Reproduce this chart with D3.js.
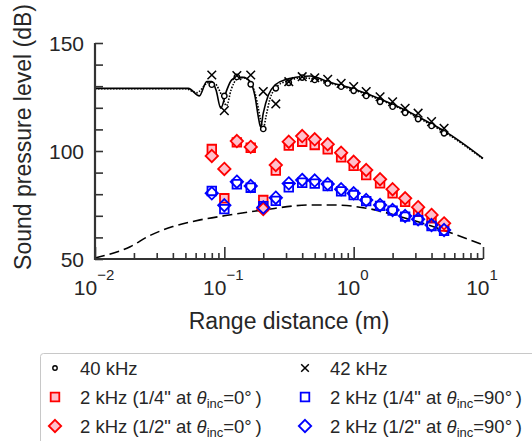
<!DOCTYPE html>
<html>
<head>
<meta charset="utf-8">
<script src="https://cdn.jsdelivr.net/npm/d3@7"></script>
<style>
  html, body { margin: 0; padding: 0; background: #fff; }
  svg { display: block; font-family: "Liberation Sans", Arial, sans-serif; }
</style>
</head>
<body>
<div id="chart"></div>
<script>
// measured ranges (m)
const ranges = [0.08, 0.1, 0.125, 0.16, 0.2, 0.25, 0.315, 0.4, 0.5, 0.63, 0.8, 1, 1.25, 1.6, 2, 2.5, 3.15, 4, 5];

// measured SPL (dB)
const spl40k = [130.7, 125.5, 134.3, 130.9, 110.2, 129.0, 131.6, 134.0, 132.9, 131.3, 129.8, 127.9, 125.5, 122.8, 120.5, 117.7, 114.8, 111.6, 108.2];
const spl42k = [135.2, 118.7, 134.9, 135.2, 127.5, 121.8, 132.1, 134.4, 133.9, 133.2, 131.3, 129.8, 127.5, 125.1, 122.8, 119.8, 117.5, 113.6, 110.5];
const spl2kQuarter0 = [100.9, 78.1, 104.0, 101.5, 77.3, 90.9, 102.5, 104.3, 102.8, 100.8, 97.1, 93.1, 88.9, 85.0, 80.4, 76.5, 71.9, 68.8, 65.0];
const spl2kQuarter90 = [81.5, 73.1, 84.6, 83.0, 74.5, 76.9, 83.2, 85.3, 84.9, 83.8, 81.3, 79.6, 76.8, 74.6, 72.4, 69.6, 68.0, 65.3, 63.0];
const spl2kHalf0 = [97.7, 91.7, 104.6, 101.9, 73.1, 93.5, 104.3, 106.9, 105.4, 103.1, 99.2, 95.0, 91.2, 86.9, 82.3, 78.1, 74.0, 70.4, 66.5];
const spl2kHalf90 = [80.4, 74.9, 85.8, 83.8, 73.9, 78.4, 85.0, 86.6, 86.3, 84.7, 82.3, 80.4, 77.3, 75.0, 72.7, 69.9, 68.4, 65.7, 63.4];

// model curves
const solidR = [0.01, 0.0527, 0.0641, 0.0731, 0.08, 0.0863, 0.0938, 0.1044, 0.114, 0.125, 0.14, 0.158, 0.173, 0.183, 0.191, 0.2, 0.219, 0.247, 0.304, 0.385, 0.46, 0.63, 1, 1.6, 2.5, 4, 5, 10];
const solidSpl = [129.0, 129.0, 125.5, 132.1, 132.1, 128.2, 119.8, 128.2, 132.9, 134.1, 134.1, 132.1, 125.1, 115.9, 111.0, 117.5, 125.9, 130.6, 133.2, 134.4, 134.7, 132.1, 128.7, 124.1, 119.0, 112.5, 109.3, 96.6];
const dottedR = [0.01, 0.05, 0.0612, 0.0752, 0.085, 0.095, 0.104, 0.113, 0.125, 0.14, 0.16, 0.175, 0.19, 0.2, 0.21, 0.225, 0.25, 0.3, 0.4, 0.5, 0.63, 1, 1.6, 2.5, 4, 5, 10];
const dottedSpl = [128.8, 128.8, 127.0, 131.6, 131.0, 126.0, 121.0, 128.5, 133.2, 134.0, 131.5, 125.5, 115.0, 110.3, 116.0, 124.0, 129.2, 132.3, 133.8, 133.4, 131.7, 128.3, 123.7, 118.6, 112.0, 108.8, 96.3];
const dashedR = [0.01, 0.0187, 0.026, 0.04, 0.065, 0.1, 0.2, 0.46, 0.7, 1.26, 2.3, 4.1, 10];
const dashedSpl = [50.5, 55.7, 60.6, 65.0, 68.1, 70.0, 72.7, 75.0, 75.0, 73.5, 69.6, 65.0, 56.5];

// axis ticks
const xMajorTicks = [0.01, 0.1, 1, 10];
const xMajorExp = ["\u22122", "\u22121", "0", "1"];
const yMajorTicks = [50, 100, 150];
const yMinorTicks = [60, 70, 80, 90, 110, 120, 130, 140];

const W = 532, H = 441;
const textColor = "#262626";
const axisColor = "#333";

const svg = d3.select("#chart").append("svg")
    .attr("width", W)
    .attr("height", H);

const x = d3.scaleLog().domain([0.01, 10]).range([95, 483]);
const y = d3.scaleLinear().domain([50, 150]).range([259, 43]);

// marker shapes
const crossPath = s => `M${-s},${-s}L${s},${s}M${-s},${s}L${s},${-s}`;
const diamondPath = s => `M0,${-s}L${s},0L0,${s}L${-s},0Z`;
const squarePath = s => `M${-s},${-s}H${s}V${s}H${-s}Z`;

const red = "#ff0000", pink = "#ffc0cb", blue = "#0000ff";

// lines
const line = d3.line()
    .x(d => x(d[0]))
    .y(d => y(d[1]))
    .curve(d3.curveMonotoneX);

const lines = svg.append("g").attr("fill", "none").attr("stroke", "#000");
lines.append("path")
    .attr("d", line(dashedR.map((r, i) => [r, dashedSpl[i]])))
    .attr("stroke-width", 1.6)
    .attr("stroke-dasharray", "10,5");
lines.append("path")
    .attr("d", line(dottedR.map((r, i) => [r, dottedSpl[i]])))
    .attr("stroke-width", 1.6)
    .attr("stroke-dasharray", "1.5,1.5");
lines.append("path")
    .attr("d", line(solidR.map((r, i) => [r, solidSpl[i]])))
    .attr("stroke-width", 1.6);

// marker series
const series = [
    {values: spl40k, kind: "circle"},
    {values: spl42k, kind: "cross"},
    {values: spl2kQuarter0, kind: "square", stroke: red, fill: pink},
    {values: spl2kQuarter90, kind: "square", stroke: blue, fill: "none"},
    {values: spl2kHalf0, kind: "diamond", stroke: red, fill: pink},
    {values: spl2kHalf90, kind: "diamond", stroke: blue, fill: "none"}
];

function drawMarker(g, kind, stroke, fill, small) {
    if (kind === "circle") {
        g.append("circle").attr("r", small ? 2.2 : 2.7)
            .attr("fill", "#fff").attr("stroke", "#000").attr("stroke-width", 1.4);
    } else if (kind === "cross") {
        g.append("path").attr("d", crossPath(small ? 3.8 : 4.3))
            .attr("fill", "none").attr("stroke", "#000").attr("stroke-width", 1.5);
    } else if (kind === "square") {
        g.append("path").attr("d", squarePath(4.3))
            .attr("fill", fill).attr("stroke", stroke).attr("stroke-width", 1.8);
    } else {
        g.append("path").attr("d", diamondPath(6.2))
            .attr("fill", fill).attr("stroke", stroke).attr("stroke-width", 1.8);
    }
}

series.forEach(s => {
    svg.append("g")
        .selectAll("g.pt")
        .data(s.values)
        .enter()
        .append("g")
        .attr("class", "pt")
        .attr("transform", (v, i) => `translate(${x(ranges[i])},${y(v)})`)
        .each(function() { drawMarker(d3.select(this), s.kind, s.stroke, s.fill); });
});

// axes
const xMinor = x.ticks().filter(t => !xMajorTicks.includes(t));

svg.append("g")
    .attr("transform", `translate(0,${y(50)})`)
    .call(d3.axisBottom(x).tickValues(xMinor).tickSize(-6).tickFormat(""))
    .call(g => g.select(".domain").remove())
    .call(g => g.selectAll("line").attr("stroke", axisColor).attr("stroke-width", 1.6));

svg.append("g")
    .attr("transform", `translate(0,${y(50)})`)
    .call(d3.axisBottom(x).tickValues(xMajorTicks).tickSize(-12).tickFormat(""))
    .call(g => g.select(".domain").remove())
    .call(g => g.selectAll("line").attr("stroke", axisColor).attr("stroke-width", 1.6));

svg.append("g")
    .attr("transform", `translate(${x(0.01)},0)`)
    .call(d3.axisLeft(y).tickValues(yMinorTicks).tickSize(-8).tickFormat(""))
    .call(g => g.select(".domain").remove())
    .call(g => g.selectAll("line").attr("stroke", axisColor).attr("stroke-width", 1.6));

svg.append("g")
    .attr("transform", `translate(${x(0.01)},0)`)
    .call(d3.axisLeft(y).tickValues(yMajorTicks).tickSize(-8).tickFormat(""))
    .call(g => g.select(".domain").remove())
    .call(g => g.selectAll("line").attr("stroke", axisColor).attr("stroke-width", 1.6));

// axis lines
svg.append("path")
    .attr("d", `M${x(0.01)},${y(150)}V${y(50)}H${x(10)}`)
    .attr("fill", "none")
    .attr("stroke", axisColor)
    .attr("stroke-width", 2.2);

// tick labels
svg.append("g")
    .selectAll("text")
    .data(yMajorTicks)
    .enter()
    .append("text")
    .attr("x", 84)
    .attr("y", d => y(d) + 7.5)
    .attr("text-anchor", "end")
    .attr("font-size", 21)
    .attr("fill", textColor)
    .text(d => d);

const xl = svg.append("g")
    .selectAll("text")
    .data(xMajorTicks)
    .enter()
    .append("text")
    .attr("x", d => x(d) - 1)
    .attr("y", 295)
    .attr("text-anchor", "middle")
    .attr("font-size", 21)
    .attr("fill", textColor);
xl.append("tspan").text("10");
xl.append("tspan")
    .attr("dy", -15)
    .attr("font-size", 15)
    .text((d, i) => xMajorExp[i]);

// axis titles
svg.append("text")
    .attr("x", 289)
    .attr("y", 329)
    .attr("text-anchor", "middle")
    .attr("font-size", 23)
    .attr("fill", textColor)
    .text("Range distance (m)");

svg.append("text")
    .attr("transform", "translate(31,137) rotate(-90)")
    .attr("text-anchor", "middle")
    .attr("font-size", 23)
    .attr("fill", textColor)
    .text("Sound pressure level (dB)");

// legend
const legendItems = [
    {label: "40 kHz", kind: "circle"},
    {label: "42 kHz", kind: "cross"},
    {label: "1/4", angle: "0", kind: "square", stroke: red, fill: pink},
    {label: "1/4", angle: "90", kind: "square", stroke: blue, fill: "#fff"},
    {label: "1/2", angle: "0", kind: "diamond", stroke: red, fill: pink},
    {label: "1/2", angle: "90", kind: "diamond", stroke: blue, fill: "#fff"}
];

const legend = svg.append("g");
legend.append("rect")
    .attr("x", 40.5)
    .attr("y", 353.5)
    .attr("width", 520)
    .attr("height", 120)
    .attr("rx", 3)
    .attr("fill", "#fff")
    .attr("stroke", "#c8c8c8");

legendItems.forEach((d, i) => {
    const col = i % 2, row = Math.floor(i / 2);
    const cy = 368 + row * 29;
    const mx = col === 0 ? 55 : 305;
    const g = legend.append("g").attr("transform", `translate(${mx},${cy})`);
    drawMarker(g, d.kind, d.stroke, d.fill, true);
    const t = legend.append("text")
        .attr("x", mx + 25)
        .attr("y", cy + 6.5)
        .attr("font-size", 18.5)
        .attr("fill", textColor);
    if (!d.angle) {
        t.text(d.label);
    } else {
        t.append("tspan").text(`2 kHz (${d.label}" at `);
        t.append("tspan").attr("font-style", "italic").text("\u03b8");
        t.append("tspan").attr("font-size", 13).attr("dy", 4).text("inc");
        t.append("tspan").attr("dy", -4).text(`=${d.angle}\u00b0\u2009)`);
    }
});
</script>
</body>
</html>
